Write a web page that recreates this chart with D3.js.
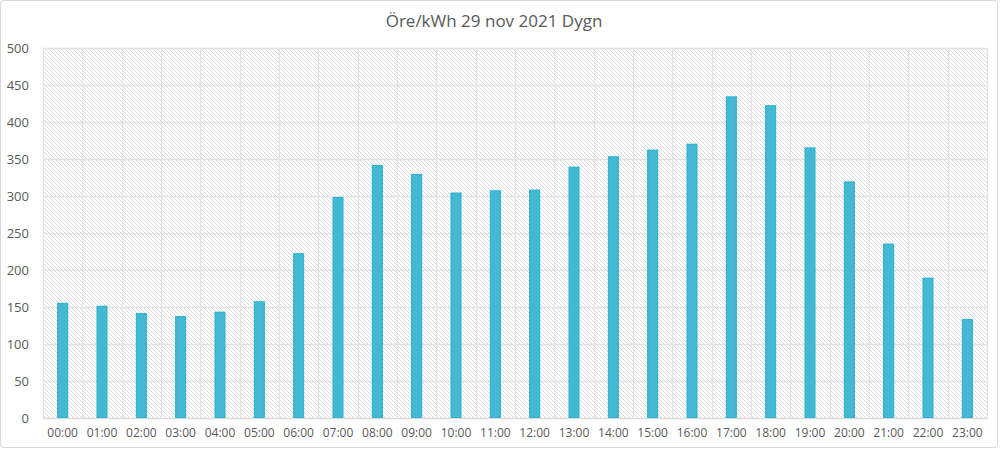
<!DOCTYPE html>
<html><head><meta charset="utf-8">
<script src="https://cdn.jsdelivr.net/npm/d3@7"></script>
<style>body{margin:0;background:#fff}svg{display:block}</style>
</head><body>
<svg id="c" width="1000" height="450"></svg>
<script>
const title = "Öre/kWh 29 nov 2021 Dygn";
const categories = ["00:00","01:00","02:00","03:00","04:00","05:00","06:00","07:00","08:00","09:00","10:00","11:00","12:00","13:00","14:00","15:00","16:00","17:00","18:00","19:00","20:00","21:00","22:00","23:00"];
const values = [155,151,141,137,143,157,222,298,341,329,304,307,308,339,353,362,370,434,422,365,319,235,189,133];
const yTicks = [0,50,100,150,200,250,300,350,400,450,500];

const svg = d3.select("#c");
const m = {l:43, r:987, t:48, b:418};
const font = "'Open Sans', sans-serif";

svg.append("rect").attr("x",0.5).attr("y",0.5).attr("width",997).attr("height",447)
  .attr("rx",3).attr("fill","#fff").attr("stroke","#d9d9d9");

const defs = svg.append("defs");
const pat = defs.append("pattern").attr("id","hatch").attr("patternUnits","userSpaceOnUse")
  .attr("width",4).attr("height",4);
pat.append("rect").attr("width",4).attr("height",4).attr("fill","#fff");
pat.append("path").attr("d","M-1,-1 L5,5 M-1,3 L1,5 M3,-1 L5,1").attr("stroke","#dcdcdc").attr("stroke-width",1);

const x = d3.scaleBand().domain(categories).range([m.l, m.r]).paddingInner(0).paddingOuter(0);
const y = d3.scaleLinear().domain([0,500]).range([m.b, m.t]);

svg.append("rect").attr("x",m.l).attr("y",m.t).attr("width",m.r-m.l).attr("height",m.b-m.t).attr("fill","url(#hatch)");

// gridlines
const grid = svg.append("g");
grid.selectAll("line.h").data(yTicks).join("line")
  .attr("x1",m.l).attr("x2",m.r).attr("y1",d=>Math.round(y(d))+0.5).attr("y2",d=>Math.round(y(d))+0.5)
  .attr("stroke","#e3e3e3").attr("stroke-width",1.3);
const vb = categories.map(c=>x(c)).concat([m.r]);
grid.selectAll("line.v").data(vb).join("line")
  .attr("x1",d=>Math.round(d)+0.5).attr("x2",d=>Math.round(d)+0.5).attr("y1",m.t).attr("y2",m.b)
  .attr("stroke","#e3e3e3").attr("stroke-width",1.3);

// bars
const bw = 10;
svg.append("g").selectAll("rect").data(values).join("rect")
  .attr("x",(d,i)=>x(categories[i])+x.bandwidth()/2-bw/2)
  .attr("y",d=>y(d)).attr("width",bw).attr("height",d=>y(0)-y(d))
  .attr("fill","#45b8d3").attr("stroke","#22b2cc").attr("stroke-width",1);

// axes
const yAxis = d3.axisLeft(y).tickValues(yTicks).tickSize(0).tickPadding(14);
const gy = svg.append("g").attr("transform",`translate(${m.l},0)`).call(yAxis);
gy.select(".domain").remove();
gy.selectAll("text").attr("font-family",font).attr("font-size",13).attr("fill","#595959");

const xAxis = d3.axisBottom(x).tickSize(0).tickPadding(10);
const gx = svg.append("g").attr("transform",`translate(0,${m.b})`).call(xAxis);
gx.select(".domain").attr("stroke","#d9d9d9");
gx.selectAll("text").attr("font-family",font).attr("font-size",12).attr("fill","#595959");

svg.append("text").attr("x",494).attr("y",27).attr("text-anchor","middle")
  .attr("font-family",font).attr("font-size",17).attr("fill","#595959").text(title);
</script>
</body></html>
